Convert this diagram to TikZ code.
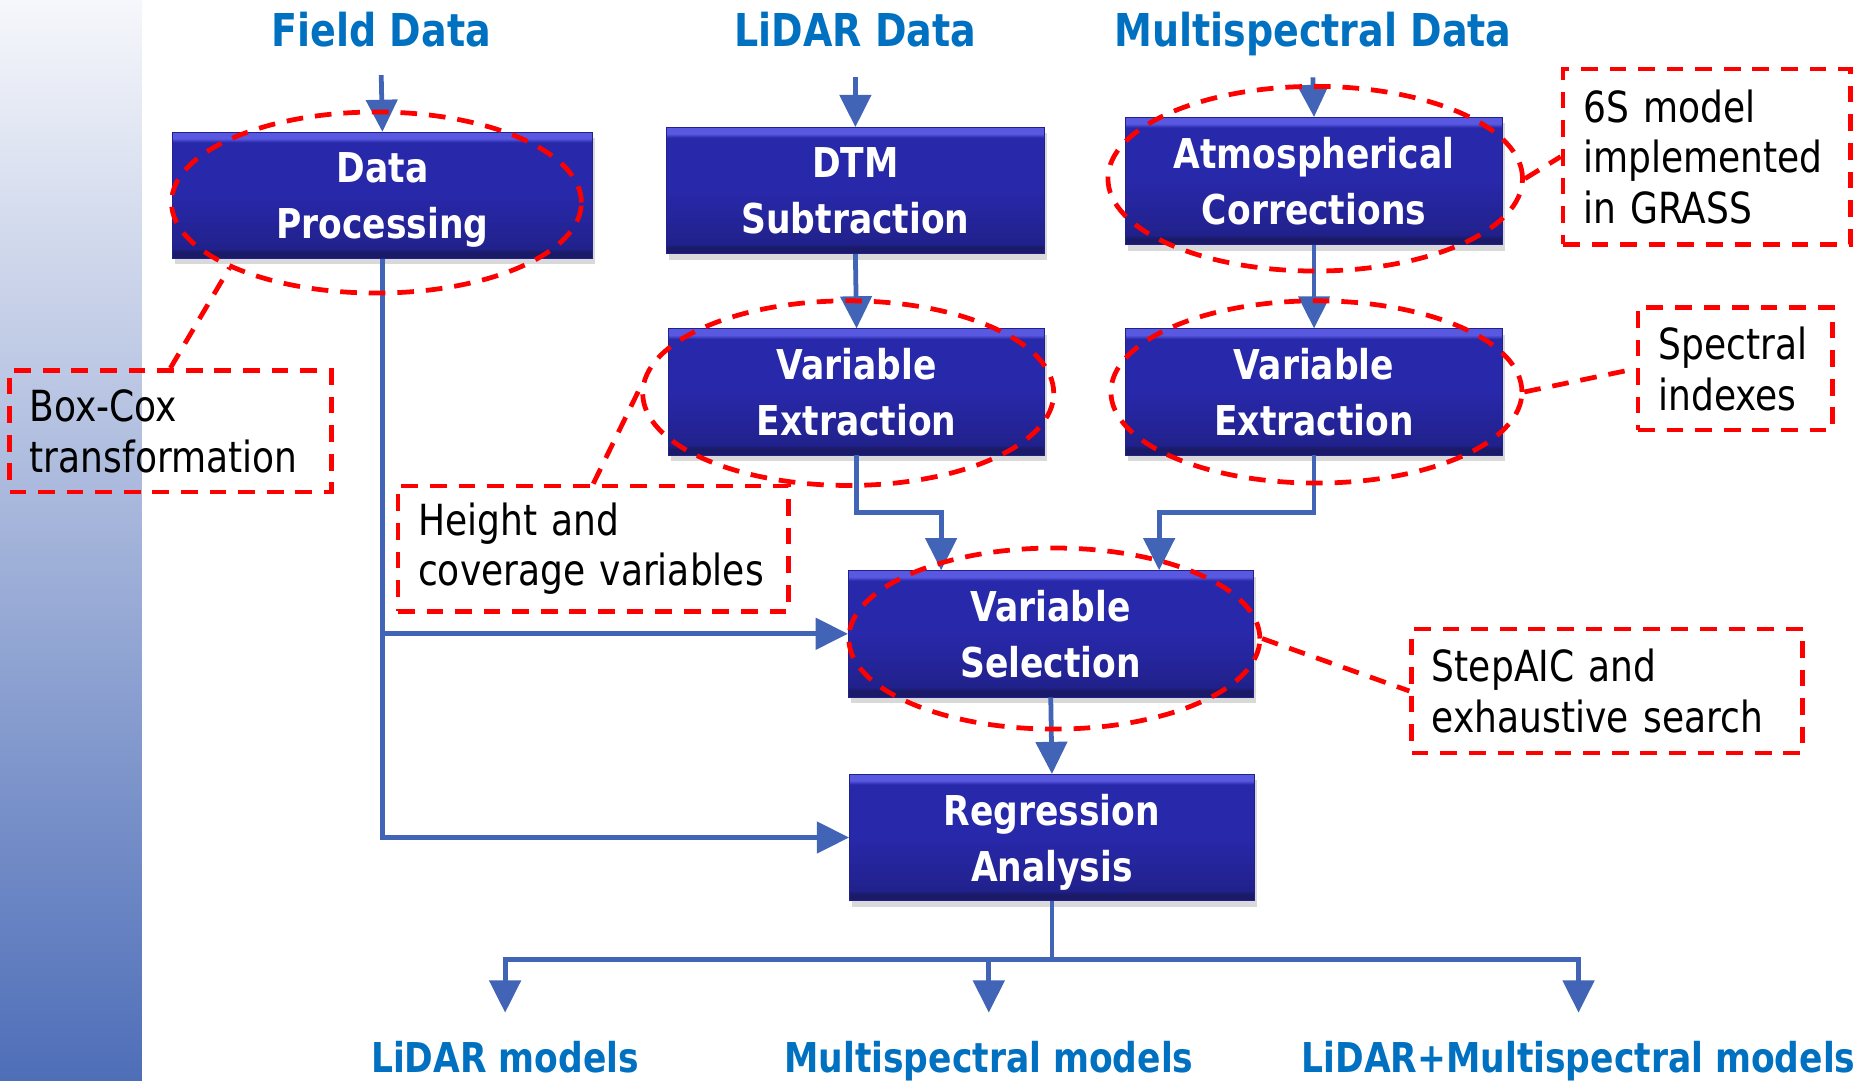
\documentclass[tikz,border=0pt]{standalone}
\usepackage{fontspec}
\setmainfont{DejaVu Sans}[FakeStretch=0.84]
\usetikzlibrary{shapes.geometric,arrows.meta,shadows}

\definecolor{flowblue}{RGB}{66,100,182}
\definecolor{titleblue}{RGB}{0,112,192}
\definecolor{boxmain}{RGB}{40,40,170}
\definecolor{boxlow}{RGB}{33,33,140}
\definecolor{boxlight}{RGB}{88,88,224}
\definecolor{boxdark}{RGB}{26,26,104}
\definecolor{striptop}{RGB}{246,247,251}
\definecolor{stripbot}{RGB}{78,110,184}
\definecolor{calloutred}{RGB}{255,0,0}

% bevelled fill for the process boxes (path spans 25bp..75bp)
\pgfdeclareverticalshading{bevelbox}{100bp}{%
  color(0bp)=(boxdark); color(25bp)=(boxdark); color(27.5bp)=(boxdark);
  color(29bp)=(boxlow); color(50bp)=(boxmain); color(71bp)=(boxmain);
  color(72.5bp)=(boxlight); color(75bp)=(boxlight); color(100bp)=(boxlight)}

\begin{document}
\begin{tikzpicture}[x=1pt,y=-1pt,
  procbox/.style={shading=bevelbox, draw=boxlow, line width=0.6pt,
    text=white, align=center, inner sep=0pt, text depth=0pt,
    font=\bfseries\fontsize{34.5}{47}\selectfont,
    drop shadow={shadow xshift=2pt, shadow yshift=-5pt, opacity=0.3}},
  heading/.style={text=titleblue, anchor=base, inner sep=0pt,
    font=\bfseries\fontsize{38}{46}\selectfont},
  outlabel/.style={text=titleblue, anchor=base, inner sep=0pt,
    font=\bfseries\fontsize{34.5}{42}\selectfont},
  flow/.style={draw=flowblue, line width=4pt,
    -{Triangle[length=27pt,width=26pt]}},
  redline/.style={draw=calloutred, line width=4pt,
    dash pattern=on 14pt off 10pt},
  ring/.style={redline, ellipse, inner sep=0pt},
  callout/.style={redline, align=left, inner xsep=17pt, inner ysep=0pt,
    text=black, font=\fontsize{36}{42.5}\selectfont},
]
\useasboundingbox (0,0) rectangle (1568,907);

% side band
\shade[top color=striptop, bottom color=stripbot] (0,0) rectangle (119,907);

% headings
\node[heading] (tF) at (320,39) {Field Data};
\node[heading] (tL) at (718,39) {LiDAR Data};
\node[heading] (tM) at (1102,39) {Multispectral Data};

% process boxes
\node[procbox, minimum width=353pt, minimum height=106pt] (bDP)  at (321,164) {Data\\Processing};
\node[procbox, minimum width=317pt, minimum height=106pt] (bDTM) at (718,160) {DTM\\Subtraction};
\node[procbox, minimum width=316pt, minimum height=107pt] (bAC)  at (1103,152) {Atmospherical\\Corrections};
\node[procbox, minimum width=316pt, minimum height=106pt] (bVL)  at (719,329) {Variable\\Extraction};
\node[procbox, minimum width=316pt, minimum height=106pt] (bVM)  at (1103,329) {Variable\\Extraction};
\node[procbox, minimum width=340pt, minimum height=106pt] (bVS)  at (882,532) {Variable\\Selection};
\node[procbox, minimum width=340pt, minimum height=106pt] (bRA)  at (883,703) {Regression\\Analysis};

% outputs
\node[outlabel] (oL) at (424,900) {LiDAR models};
\node[outlabel] (oM) at (830,900) {Multispectral models};
\node[outlabel] (oR) at (1325,900) {LiDAR+Multispectral models};

% flow connectors
\draw[flow] ([yshift=-24pt]tF.base) -- (bDP.north);
\draw[flow] ([yshift=-26pt]tL.base) -- (bDTM.north);
\draw[flow] ([yshift=-26pt]tM.base) -- (bAC.north);
\draw[flow] (bDTM.south) -- (bVL.north);
\draw[flow] (bAC.south) -- (bVM.north);
\draw[flow] (bVL.south) -- ++(0,48) -| ([xshift=-92pt]bVS.north);
\draw[flow] (bVM.south) -- ++(0,48) -| ([xshift=91pt]bVS.north);
\draw[flow] (bDP.south) |- (bVS.west);
\draw[flow] (bDP.south) |- (bRA.west);
\draw[flow] (bVS.south) -- (bRA.north);
\draw[draw=flowblue, line width=4pt] (bRA.south) -- ++(0,49) coordinate (split);
\draw[flow] (split) -| ([yshift=50pt]oL.base);
\draw[flow] (split) -| ([yshift=50pt]oM.base);
\draw[flow] (split) -| ([yshift=50pt]oR.base);

% highlight rings
\node[ring, minimum width=344pt, minimum height=152pt] (eDP) at (316,170) {};
\node[ring, minimum width=348pt, minimum height=155pt] (eAC) at (1104,150) {};
\node[ring, minimum width=345pt, minimum height=155pt] (eVL) at (712,330) {};
\node[ring, minimum width=345pt, minimum height=153pt] (eVM) at (1105,329) {};
\node[ring, minimum width=345pt, minimum height=152pt] (eVS) at (885,536) {};

% notes
\node[callout, text width=236pt, minimum height=102pt] (rB) at (143,362)
  {\mbox{Box-Cox}\\\mbox{transformation}};
\node[callout, text width=294pt, minimum height=105pt] (rH) at (498,460.5)
  {\mbox{Height and}\\\mbox{coverage variables}};
\node[callout, text width=207pt, minimum height=147pt] (r6) at (1432.5,131.5)
  {\mbox{6S model}\\\mbox{implemented}\\\mbox{in GRASS}};
\node[callout, text width=129pt, minimum height=103pt] (rS) at (1456.5,309.5)
  {\mbox{Spectral}\\\mbox{indexes}};
\node[callout, text width=294pt, minimum height=104pt] (rSt) at (1349,580)
  {\mbox{StepAIC and}\\\mbox{exhaustive search}};

% note leaders
\draw[redline] (rB.north) -- (eDP.204);
\draw[redline] (rH.north) -- (eVL.178);
\draw[redline] (eAC.east) -- (r6.west);
\draw[redline] (eVM.east) -- (rS.west);
\draw[redline] (eVS.east) -- (rSt.west);
\end{tikzpicture}
\end{document}
